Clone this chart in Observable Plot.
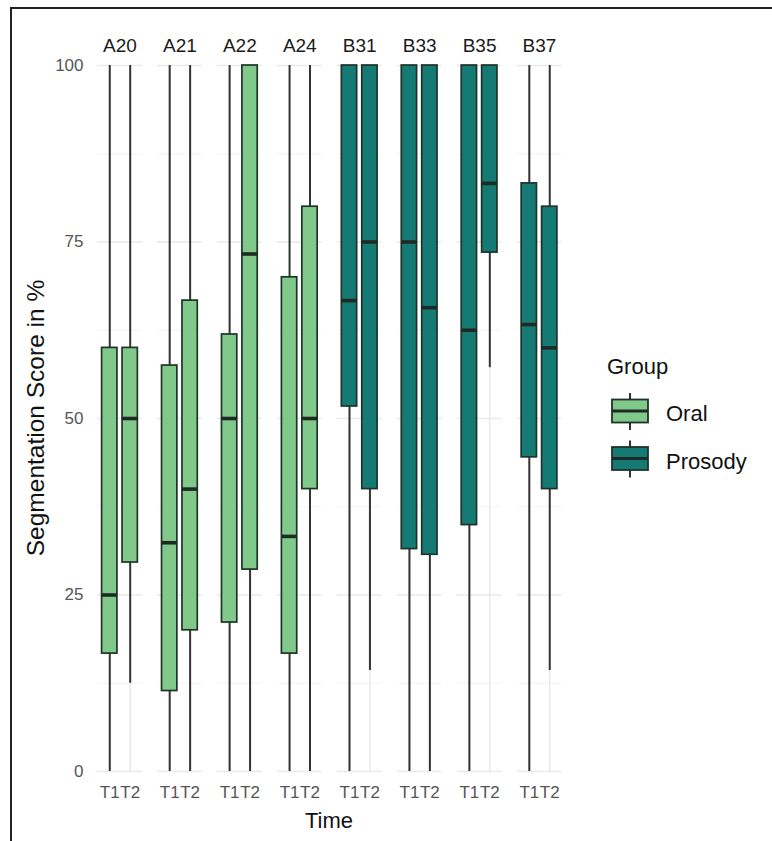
<!DOCTYPE html>
<html>
<head>
<meta charset="utf-8">
<script src="https://cdn.jsdelivr.net/npm/d3@7"></script>
<script src="https://cdn.jsdelivr.net/npm/@observablehq/plot@0.6"></script>
<style>
  html, body { margin: 0; padding: 0; background: #fff; overflow: hidden; }
  #wrap { position: relative; width: 772px; height: 841px; font-family: "Liberation Sans", Arial, sans-serif; }
  #frame { position: absolute; left: 10px; top: 7px; width: 900px; height: 900px; border-left: 2px solid #222; border-top: 2px solid #222; pointer-events: none; }
  #chart { position: absolute; left: 0; top: 0; }
  #overlay { position: absolute; left: 0; top: 0; pointer-events: none; }
  #chart [aria-label^="fx-axis"] text { font-size: 19px; fill: #1a1a1a; }
  #chart [aria-label^="x-axis"] text { font-size: 17px; fill: #555; }
  #chart [aria-label^="y-axis"] text { font-size: 17px; fill: #555; }
</style>
</head>
<body>
<div id="wrap">
  <div id="chart"></div>
  <svg id="overlay" width="772" height="841"></svg>
  <div id="frame"></div>
</div>
<script>
// ---- data ----
const subjects = ["A20", "A21", "A22", "A24", "B31", "B33", "B35", "B37"];
const subjectGroup = ["Oral", "Oral", "Oral", "Oral", "Prosody", "Prosody", "Prosody", "Prosody"];
const times = ["T1", "T2"];
// order: A20 T1, A20 T2, A21 T1, A21 T2, ...
const ymin   = [0, 12.5,   0, 0,    0, 0,    0, 0,    0, 14.3,   0, 0,     0, 57.2,   0, 14.3];
const lower  = [16.7, 29.6, 11.4, 20, 21.1, 28.6, 16.7, 40, 51.7, 40, 31.5, 30.7, 34.9, 73.5, 44.5, 40];
const median = [25, 50, 32.4, 40, 50, 73.3, 33.3, 50, 66.7, 75, 75, 65.7, 62.5, 83.3, 63.3, 60];
const upper  = [60, 60, 57.5, 66.7, 61.9, 100, 70, 80, 100, 100, 100, 100, 100, 100, 83.3, 80];
const ymax   = [100, 100, 100, 100, 100, 100, 100, 100, 100, 100, 100, 100, 100, 100, 100, 100];
const groups = ["Oral", "Prosody"];
const groupFill = ["#80c98a", "#147a73"];
const yTicks = [0, 25, 50, 75, 100];
const yMinor = [12.5, 37.5, 62.5, 87.5];

const rows = [];
subjects.forEach((s, i) => times.forEach((t, j) => {
  const k = i * 2 + j;
  rows.push({subject: s, group: subjectGroup[i], time: t,
    ymin: ymin[k], lower: lower[k], median: median[k], upper: upper[k], ymax: ymax[k]});
}));

const plot = Plot.plot({
  width: 772,
  height: 841,
  marginLeft: 97,
  marginRight: 210.5,
  marginTop: 65,
  marginBottom: 70,
  style: {fontFamily: '"Liberation Sans", Arial, sans-serif', background: "transparent"},
  facet: {data: rows, x: "subject"},
  fx: {domain: subjects, paddingInner: 0.25, paddingOuter: 0, round: false, axis: "top", tickSize: 0, tickPadding: 14, label: null},
  x: {domain: times, paddingInner: 0.25, paddingOuter: 0.225, round: false, axis: "bottom", tickSize: 0, tickPadding: 14, label: null},
  y: {domain: [0, 100], ticks: yTicks, tickSize: 0, tickPadding: 14, label: null},
  color: {domain: groups, range: groupFill},
  marks: [
    Plot.ruleY(yMinor, {stroke: "#f3f3f3", strokeWidth: 1}),
    Plot.ruleY(yTicks, {stroke: "#e9e9e9", strokeWidth: 1.6}),
    Plot.ruleX(times, {stroke: "#e9e9e9", strokeWidth: 1.6}),
    Plot.ruleX(rows, {x: "time", y1: "ymin", y2: "lower", stroke: "#333", strokeWidth: 2}),
    Plot.ruleX(rows, {x: "time", y1: "upper", y2: "ymax", stroke: "#333", strokeWidth: 2}),
    Plot.barY(rows, {x: "time", y1: "lower", y2: "upper", fill: "group", stroke: "#1f3328", strokeWidth: 1.7}),
    Plot.tickY(rows, {x: "time", y: "median", stroke: "#1f2a24", strokeWidth: 3.6})
  ]
});
document.getElementById("chart").appendChild(plot);

// ---- axis titles and legend (overlay) ----
const color = plot.scale("color");
const ov = d3.select("#overlay");
const font = '"Liberation Sans", Arial, sans-serif';

ov.append("text")
  .attr("transform", "translate(35,418) rotate(-90)")
  .attr("text-anchor", "middle").attr("dominant-baseline", "central")
  .attr("font-family", font).attr("font-size", 24.5).attr("fill", "#111")
  .text("Segmentation Score in %");

ov.append("text")
  .attr("x", 329).attr("y", 828)
  .attr("text-anchor", "middle")
  .attr("font-family", font).attr("font-size", 22).attr("fill", "#111")
  .text("Time");

ov.append("text")
  .attr("x", 607).attr("y", 374)
  .attr("font-family", font).attr("font-size", 22).attr("fill", "#111")
  .text("Group");

color.domain.forEach((g, i) => {
  const cy = 411 + i * 47.5;
  const gk = ov.append("g");
  gk.append("line").attr("x1", 630).attr("x2", 630).attr("y1", cy - 18).attr("y2", cy + 19)
    .attr("stroke", "#333").attr("stroke-width", 2);
  gk.append("rect").attr("x", 612).attr("y", cy - 11.5).attr("width", 36).attr("height", 23)
    .attr("fill", color.range[i]).attr("stroke", "#1f3328").attr("stroke-width", 1.8);
  gk.append("line").attr("x1", 612).attr("x2", 648).attr("y1", cy).attr("y2", cy)
    .attr("stroke", "#1f2a24").attr("stroke-width", 3);
  ov.append("text")
    .attr("x", 666).attr("y", cy + 10)
    .attr("font-family", font).attr("font-size", 22).attr("fill", "#111")
    .text(g);
});
</script>
</body>
</html>
